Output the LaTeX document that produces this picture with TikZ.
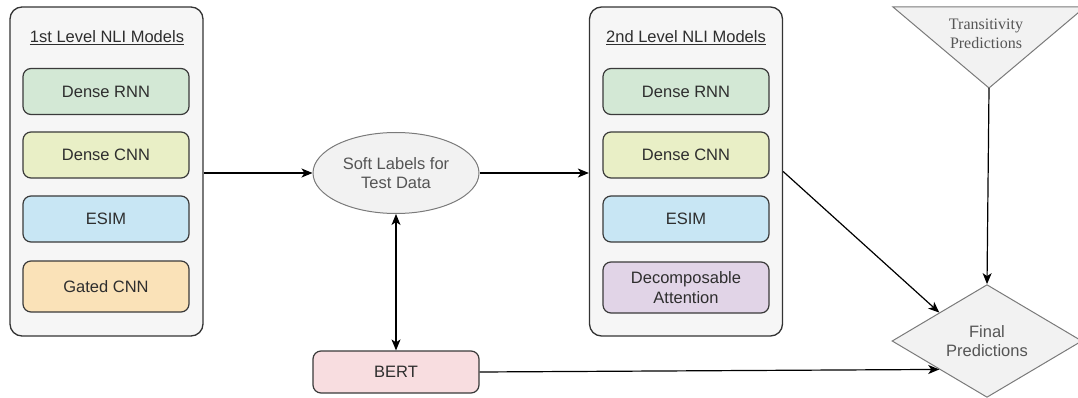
\documentclass[tikz,border=0pt]{standalone}
\usepackage{fontspec}
\setmainfont{Liberation Sans}
\newfontfamily\serifA{Liberation Serif}
\usetikzlibrary{arrows.meta,shapes.geometric,calc}
\definecolor{cRNN}{HTML}{D3E8D5}
\definecolor{cCNN}{HTML}{E9EFC6}
\definecolor{cESIM}{HTML}{C8E6F4}
\definecolor{cGated}{HTML}{FAE2B8}
\definecolor{cDecomp}{HTML}{E1D4E7}
\definecolor{cBert}{HTML}{F8DDE0}
\definecolor{contF}{HTML}{F6F6F6}
\definecolor{greyF}{HTML}{F2F2F2}
\definecolor{greyS}{HTML}{7A7A7A}
\definecolor{strokeM}{HTML}{3A3A3A}
\definecolor{strokeC}{HTML}{333333}
\definecolor{txt}{HTML}{2E2E2E}
\definecolor{txtG}{HTML}{555555}
\newcommand{\fsA}{\fontsize{16.5}{19}\selectfont}
\newcommand{\fsB}{\fontsize{16}{19}\selectfont}
\begin{document}
\begin{tikzpicture}[x=1pt,y=-1pt,
  container/.style={draw=strokeC, line width=1.3pt, fill=contF, rounded corners=12pt, minimum width=193pt, minimum height=329pt, inner sep=0pt},
  modelbox/.style={draw=strokeM, line width=1.2pt, rounded corners=8pt, minimum width=166pt, minimum height=46pt, inner sep=0pt, align=center, font=\fsA, text=txt},
  titletext/.style={font=\fsA, text=txt, inner sep=0pt},
  greyshape/.style={draw=greyS, line width=1pt, fill=greyF},
  conn/.style={-{Stealth[length=11pt,width=9pt,inset=3pt]}, line width=1.2pt, draw=black},
  bconn/.style={{Stealth[length=11pt,width=9pt,inset=3pt]}-{Stealth[length=11pt,width=9pt,inset=3pt]}, line width=1.2pt, draw=black}
]
\useasboundingbox (0,0) rectangle (1078,398);

% first level
\node[container] (c1) at (106.5,171.5) {};
\node[titletext] (t1) at (107,38) {\underline{1st Level NLI Models}};
\node[modelbox, fill=cRNN] (r1) at (106,91.5) {Dense RNN};
\node[modelbox, fill=cCNN] (n1) at (106,155) {Dense CNN};
\node[modelbox, fill=cESIM] (e1) at (106,219) {ESIM};
\node[modelbox, fill=cGated, minimum height=51pt] (g1) at (106,286.5) {Gated CNN};

% second level
\node[container] (c2) at (686,171.5) {};
\node[titletext] (t2) at (686,38) {\underline{2nd Level NLI Models}};
\node[modelbox, fill=cRNN] (r2) at (686,91.5) {Dense RNN};
\node[modelbox, fill=cCNN] (n2) at (686,155) {Dense CNN};
\node[modelbox, fill=cESIM] (e2) at (686,219) {ESIM};
\node[modelbox, fill=cDecomp, minimum height=51pt, font=\fontsize{16.5}{19.5}\selectfont] (d2) at (686,287.5) {Decomposable\\Attention};

% soft labels
\node[ellipse, greyshape, minimum width=166pt, minimum height=81pt, inner sep=0pt, align=center, font=\fsA, text=txtG] (ell) at (396,173) {Soft Labels for\\Test Data};

% BERT
\node[modelbox, fill=cBert, minimum height=42pt] (bert) at (396,372) {BERT};

% transitivity triangle
\draw[greyshape] (893,7) -- (1085,7) -- (989,88) -- cycle;
\coordinate (tapex) at (989,88);
\node[align=center, font=\serifA\fsB, text=txtG, inner sep=0pt] (trans) at (986,34) {Transitivity\\Predictions};

% final predictions
\node[diamond, greyshape, minimum width=190pt, minimum height=108pt, inner sep=0pt, align=center, font=\fsA, text=txtG] (final) at (987,341) {Final\\Predictions};

% connectors
\draw[conn] (c1.east |- ell.west) -- (ell.west);
\draw[conn] (ell.east) -- (ell.east -| c2.west);
\draw[bconn] (ell.south) -- (bert.north);
\draw[conn] (tapex) -- (final.north);
\draw[conn] (c2.east) -- ($(final.west)!0.5!(final.north)$);
\draw[conn] (bert.east) -- ($(final.west)!0.5!(final.south)$);
\end{tikzpicture}
\end{document}
